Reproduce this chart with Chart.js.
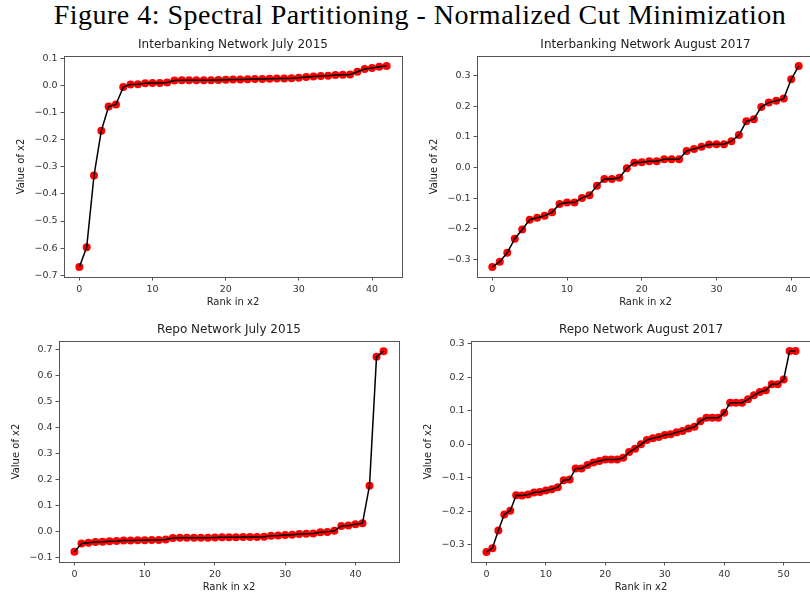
<!DOCTYPE html>
<html>
<head>
<meta charset="utf-8">
<script src="https://cdn.jsdelivr.net/npm/chart.js@4.4.1/dist/chart.umd.min.js"></script>
<style>
html, body { margin:0; padding:0; background:#fff; overflow:hidden; }
#page { position:relative; width:810px; height:594px; overflow:hidden; background:#fff; }
#suptitle { position:absolute; left:0; top:1px; width:840px; text-align:center; font-family:"Liberation Serif", serif; font-size:28px; line-height:28px; letter-spacing:0.5px; color:#000; white-space:nowrap; }
canvas { position:absolute; }
</style>
</head>
<body>
<div id="page">
	<div id="suptitle">Figure 4: Spectral Partitioning - Normalized Cut Minimization</div>
	<canvas id="interJuly" width="406" height="274" style="left:0px;top:38px"></canvas>
	<canvas id="interAug" width="413" height="274" style="left:405px;top:38px"></canvas>
	<canvas id="repoJuly" width="403" height="271" style="left:0px;top:323px"></canvas>
	<canvas id="repoAug" width="410" height="271" style="left:405px;top:323px"></canvas>
</div>
<script>
// x2 values, sorted (rank = position in array)
const interbankJuly2015 = [
	-0.670, -0.597, -0.332, -0.166, -0.077, -0.069, -0.005, 0.005, 0.006, 0.009,
	0.010, 0.010, 0.012, 0.019, 0.020, 0.020, 0.020, 0.020, 0.020, 0.021,
	0.022, 0.023, 0.023, 0.024, 0.025, 0.025, 0.026, 0.027, 0.027, 0.028,
	0.030, 0.032, 0.034, 0.036, 0.037, 0.040, 0.041, 0.042, 0.052, 0.062,
	0.066, 0.070, 0.073
];
const interbankAug2017 = [
	-0.324, -0.307, -0.278, -0.232, -0.202, -0.170, -0.164, -0.157, -0.146, -0.119,
	-0.114, -0.114, -0.099, -0.090, -0.059, -0.037, -0.037, -0.033, -0.002, 0.016,
	0.017, 0.021, 0.021, 0.027, 0.027, 0.027, 0.054, 0.061, 0.068, 0.075,
	0.076, 0.076, 0.086, 0.106, 0.151, 0.158, 0.198, 0.212, 0.218, 0.225,
	0.288, 0.331
];
const repoJuly2015 = [
	-0.078, -0.046, -0.043, -0.040, -0.039, -0.037, -0.036, -0.034, -0.034, -0.033,
	-0.033, -0.032, -0.032, -0.030, -0.025, -0.024, -0.024, -0.024, -0.024, -0.024,
	-0.023, -0.022, -0.022, -0.022, -0.021, -0.021, -0.021, -0.020, -0.016, -0.015,
	-0.013, -0.012, -0.009, -0.008, -0.007, -0.002, -0.001, 0.003, 0.022, 0.024,
	0.028, 0.032, 0.177, 0.673, 0.695
];
const repoAug2017 = [
	-0.321, -0.310, -0.257, -0.209, -0.198, -0.152, -0.153, -0.150, -0.144, -0.142,
	-0.138, -0.134, -0.128, -0.107, -0.105, -0.072, -0.072, -0.062, -0.054, -0.050,
	-0.045, -0.045, -0.045, -0.040, -0.023, -0.013, 0.000, 0.013, 0.018, 0.022,
	0.028, 0.030, 0.036, 0.040, 0.047, 0.052, 0.069, 0.079, 0.079, 0.079,
	0.094, 0.124, 0.124, 0.124, 0.134, 0.146, 0.156, 0.161, 0.179, 0.179,
	0.193, 0.278, 0.278
];

// tick values
const rankTicks40 = [0, 10, 20, 30, 40];
const rankTicks50 = [0, 10, 20, 30, 40, 50];
const interJulyTicks = [-0.7, -0.6, -0.5, -0.4, -0.3, -0.2, -0.1, 0.0, 0.1];
const interAugTicks = [-0.3, -0.2, -0.1, 0.0, 0.1, 0.2, 0.3];
const repoJulyTicks = [-0.1, 0.0, 0.1, 0.2, 0.3, 0.4, 0.5, 0.6, 0.7];
const repoAugTicks = [-0.3, -0.2, -0.1, 0.0, 0.1, 0.2, 0.3];

// axis frame (all four spines)
const framePlugin = {
	id: "frame",
	afterDraw: function(chart){
		let a = chart.chartArea;
		let ctx = chart.ctx;
		ctx.save();
		ctx.strokeStyle = "#555";
		ctx.lineWidth = 1;
		ctx.strokeRect(Math.round(a.left) + 0.5, Math.round(a.top) + 0.5, Math.round(a.right - a.left), Math.round(a.bottom - a.top));
		ctx.restore();
	}
};

let fmtValue = function(v){
	return Number(v).toFixed(1).replace("-", "\u2212");
}

let renderRankChart = function(component, title, values, xTicks, yTicks, xRange, yRange, box){
	let ctx = document.getElementById(component).getContext("2d");
	let points = values.map((v, i) => ({x: i, y: v}));
	let tickFont = {family: "DejaVu Sans", size: 9.5};
	let labelFont = {family: "DejaVu Sans", size: 10};
	let tickGrid = {display: true, drawOnChartArea: false, drawTicks: true, tickLength: 3.5, color: "#555"};
	let myChart = new Chart(ctx, {
		type: "scatter",
		data: {
			datasets: [{
				data: points,
				showLine: true,
				borderColor: "#000",
				borderWidth: 1.5,
				pointRadius: 0,
				tension: 0,
				order: 0
			},{
				data: points,
				showLine: false,
				backgroundColor: "#ff0000",
				borderWidth: 0,
				pointRadius: 4,
				order: 1
			}]
		},
		options: {
			responsive: false,
			animation: false,
			layout: {padding: {left: 0, right: 2, top: 0, bottom: 0}},
			plugins: {
				legend: {display: false},
				tooltip: {enabled: false},
				title: {
					display: true,
					text: title,
					fullSize: false,
					color: "#222",
					font: {family: "DejaVu Sans", size: 12, weight: "normal"},
					padding: {top: 0, bottom: 3.6}
				}
			},
			scales: {
				x: {
					type: "linear",
					min: xRange[0],
					max: xRange[1],
					afterBuildTicks: function(axis){ axis.ticks = xTicks.map(v => ({value: v})); },
					afterFit: function(axis){ axis.height = box.xHeight; },
					grid: tickGrid,
					border: {display: false},
					ticks: {padding: 3, color: "#333", font: tickFont, maxRotation: 0, autoSkip: false, callback: v => String(v)},
					title: {display: true, text: "Rank in x2", color: "#222", font: labelFont, padding: {top: 4, bottom: box.xTitlePad}}
				},
				y: {
					type: "linear",
					min: yRange[0],
					max: yRange[1],
					afterBuildTicks: function(axis){ axis.ticks = yTicks.map(v => ({value: v})); },
					afterFit: function(axis){ axis.width = box.yWidth; },
					grid: tickGrid,
					border: {display: false},
					ticks: {padding: 3, color: "#333", font: tickFont, autoSkip: false, callback: v => fmtValue(v)},
					title: {display: true, text: "Value of x2", color: "#222", font: labelFont, padding: {top: box.yTitlePad, bottom: 4}}
				}
			}
		},
		plugins: [framePlugin]
	});
}

renderRankChart("interJuly", "Interbanking Network July 2015", interbankJuly2015, rankTicks40, interJulyTicks,
	[-2.1, 44.1], [-0.707, 0.110], {yWidth: 64, xHeight: 35, yTitlePad: 15.7, xTitlePad: 4});
renderRankChart("interAug", "Interbanking Network August 2017", interbankAug2017, rankTicks40, interAugTicks,
	[-2.05, 43.05], [-0.357, 0.364], {yWidth: 72, xHeight: 35, yTitlePad: 23, xTitlePad: 4});
renderRankChart("repoJuly", "Repo Network July 2015", repoJuly2015, rankTicks40, repoJulyTicks,
	[-2.2, 46.2], [-0.117, 0.734], {yWidth: 59, xHeight: 32, yTitlePad: 10.7, xTitlePad: 1});
renderRankChart("repoAug", "Repo Network August 2017", repoAug2017, rankTicks50, repoAugTicks,
	[-2.6, 54.6], [-0.351, 0.308], {yWidth: 66, xHeight: 32, yTitlePad: 17.3, xTitlePad: 1});
</script>
</body>
</html>
